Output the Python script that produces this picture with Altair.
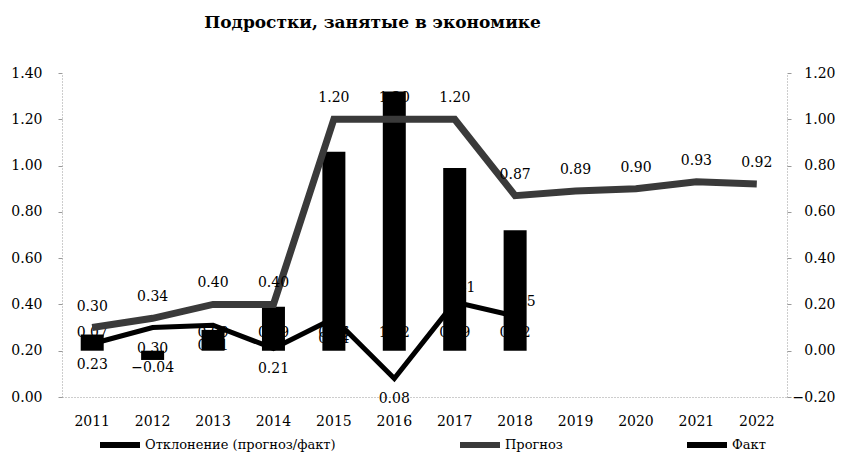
import altair as alt
import pandas as pd

# ---- data ----
years = ["2011", "2012", "2013", "2014", "2015", "2016",
         "2017", "2018", "2019", "2020", "2021", "2022"]
prognoz = [0.30, 0.34, 0.40, 0.40, 1.20, 1.20, 1.20, 0.87, 0.89, 0.90, 0.93, 0.92]
fact_years = ["2011", "2012", "2013", "2014", "2015", "2016", "2017", "2018"]
fakt = [0.23, 0.30, 0.31, 0.21, 0.34, 0.08, 0.41, 0.35]
deviation = [0.07, -0.04, 0.09, 0.19, 0.86, 1.12, 0.79, 0.52]
fact_labels_above = ["2017", "2018"]

S_DEV = "Отклонение (прогноз/факт)"
S_PRO = "Прогноз"
S_FACT = "Факт"
TITLE = "Подростки, занятые в экономике"

bars_df = pd.DataFrame({"year": fact_years, "value": deviation, "series": S_DEV})
pro_df = pd.DataFrame({"year": years, "value": prognoz, "series": S_PRO})
fact_df = pd.DataFrame({"year": fact_years, "value": fakt, "series": S_FACT})

FONT = "DejaVu Serif"
PRO_COLOR = "#3a3a3a"
AX_COLOR = "#9a9a9a"

x_enc = alt.X(
    "year:O",
    sort=years,
    scale=alt.Scale(domain=years, paddingInner=0, paddingOuter=0),
    axis=alt.Axis(title=None, labelAngle=0, ticks=False, tickSize=0,
                  domainColor=AX_COLOR, domainDash=[1, 2], labelPadding=17,
                  labelFont=FONT, labelFontSize=14, labelColor="black", grid=False),
)


def y_axis(orient, values, pad, align):
    return alt.Axis(orient=orient, values=values, format=".2f", title=None, grid=False,
                    domainColor=AX_COLOR, domainDash=[1, 2], tickColor=AX_COLOR,
                    tickSize=4, labelPadding=pad, labelAlign=align, labelFont=FONT,
                    labelFontSize=14, labelColor="black")


left_vals = [0.0, 0.2, 0.4, 0.6, 0.8, 1.0, 1.2, 1.4]
right_vals = [-0.2, 0.0, 0.2, 0.4, 0.6, 0.8, 1.0, 1.2]
left_scale = alt.Scale(domain=[0, 1.4], nice=False, zero=False)
right_scale = alt.Scale(domain=[-0.2, 1.2], nice=False, zero=False)

color_scale = alt.Scale(domain=[S_DEV, S_PRO, S_FACT],
                        range=["#000000", PRO_COLOR, "#000000"])

legend = alt.Legend(
    title=None, orient="none", legendX=35, legendY=349, direction="horizontal",
    symbolType="stroke", symbolSize=1600, symbolStrokeWidth=6,
    labelFont=FONT, labelFontSize=13, labelColor="black", labelOffset=2,
    columnPadding=112, labelLimit=400,
)

text_style = dict(font=FONT, fontSize=14, color="black")

bars = alt.Chart(bars_df).mark_bar(size=23, color="black").encode(
    x=x_enc,
    y=alt.Y("value:Q", scale=right_scale, axis=y_axis("right", right_vals, 44, "right")),
    y2=alt.datum(0),
)
bar_lab_pos = alt.Chart(bars_df).transform_filter("datum.value >= 0").mark_text(
    dy=-18, **text_style
).encode(x=x_enc, y=alt.datum(0), text=alt.Text("value:Q", format=".2f"))
bar_lab_neg = alt.Chart(bars_df).transform_filter("datum.value < 0").mark_text(
    dy=17, **text_style
).encode(x=x_enc, y=alt.datum(0), text=alt.Text("value:Q", format=".2f"))

bar_group = alt.layer(bars, bar_lab_pos, bar_lab_neg)

pro_line = alt.Chart(pro_df).mark_line(strokeWidth=7).encode(
    x=x_enc,
    y=alt.Y("value:Q", scale=left_scale, axis=y_axis("left", left_vals, 16, "right")),
    color=alt.Color("series:N", scale=color_scale, legend=legend),
)
fact_line = alt.Chart(fact_df).mark_line(strokeWidth=5).encode(
    x=x_enc, y=alt.Y("value:Q"),
    color=alt.Color("series:N", scale=color_scale, legend=legend),
)
pro_labels = alt.Chart(pro_df).mark_text(dy=-21, **text_style).encode(
    x=x_enc, y=alt.Y("value:Q"), text=alt.Text("value:Q", format=".2f"),
)
above_expr = "indexof(" + str(fact_labels_above) + ", datum.year) >= 0"
fact_lab_below = alt.Chart(fact_df).transform_filter("!(" + above_expr + ")").mark_text(
    dy=21, **text_style
).encode(x=x_enc, y=alt.Y("value:Q"), text=alt.Text("value:Q", format=".2f"))
fact_lab_above = alt.Chart(fact_df).transform_filter(above_expr).mark_text(
    dy=-14, dx=5, **text_style
).encode(x=x_enc, y=alt.Y("value:Q"), text=alt.Text("value:Q", format=".2f"))

line_group = alt.layer(pro_line, fact_line, pro_labels, fact_lab_below, fact_lab_above)

chart = alt.layer(bar_group, line_group).resolve_scale(y="independent").properties(
    width=725,
    height=324,
    title=alt.Title(TITLE, font=FONT, fontSize=17, fontWeight="bold", color="black",
                    anchor="middle", dx=-52, offset=34),
    padding={"left": 54, "top": 65, "right": 49, "bottom": 55},
    autosize=alt.AutoSizeParams(type="none"),
).configure_view(stroke=None)

chart.save("out.html", embed_options={"renderer": "svg", "actions": False})
